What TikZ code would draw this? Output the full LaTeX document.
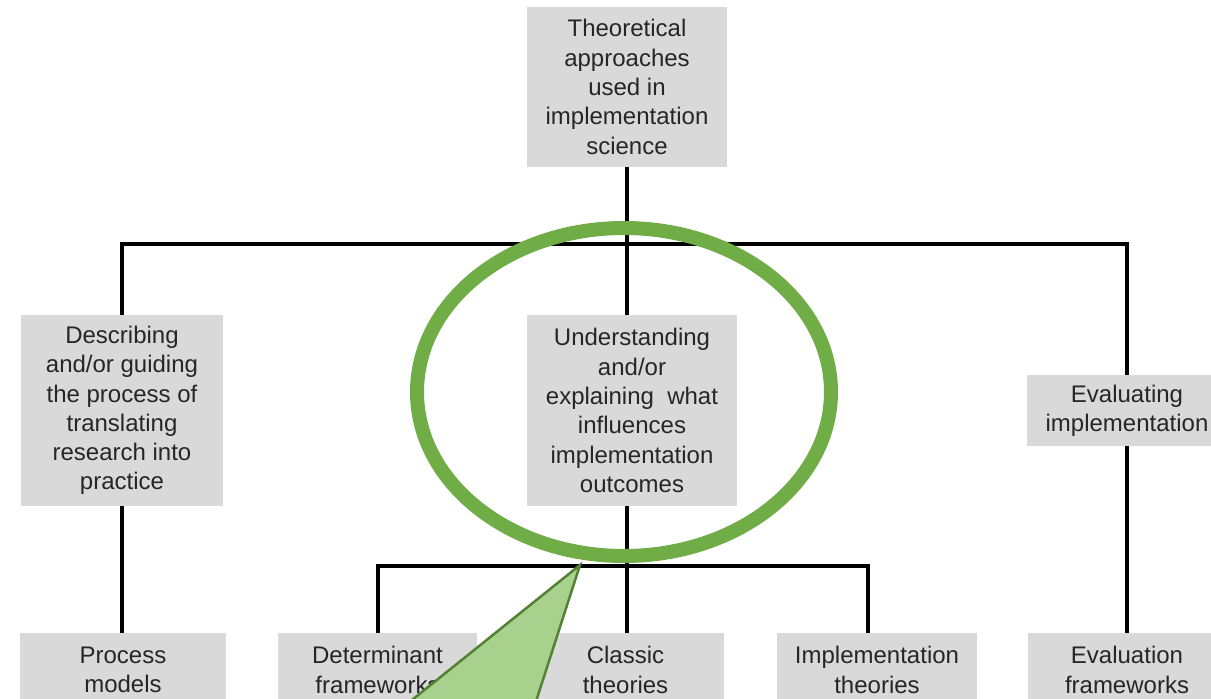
\documentclass[tikz,border=0pt]{standalone}
\usepackage{fontspec}
\setmainfont{Liberation Sans}
\definecolor{boxgray}{HTML}{D9D9D9}
\definecolor{txtgray}{HTML}{262626}
\definecolor{ringgreen}{HTML}{70AD47}
\definecolor{callfill}{HTML}{A9D18E}
\definecolor{callline}{HTML}{548235}
\begin{document}
\begin{tikzpicture}[x=1pt,y=-1pt,
  box/.style={fill=boxgray, draw=none, text=txtgray, align=center, inner sep=0pt,
    font=\fontsize{24}{29.3}\selectfont},
  link/.style={draw=black, line width=4pt, line join=miter},
  ring/.style={draw=ringgreen, line width=14pt},
  callout/.style={fill=callfill, draw=callline, line width=2.5pt, line join=miter}]
\useasboundingbox (0,0) rectangle (1211,699);
% level 0
\node[box, minimum width=200pt, minimum height=160pt] (top) at (627,87)
  {Theoretical\\approaches\\used in\\implementation\\science};
% level 1
\node[box, minimum width=202pt, minimum height=191pt] (desc) at (122,410.5)
  {Describing\\and/or guiding\\the process of\\translating\\research into\\practice};
\node[box, minimum width=210pt, minimum height=191pt] (und) at (632,410.5)
  {Understanding\\and/or\\explaining~ what\\influences\\implementation\\outcomes};
\node[box, minimum width=200pt, minimum height=71pt] (eval) at (1127,410.5)
  {Evaluating\\implementation};
% level 2
\node[box, minimum width=206pt, minimum height=74pt] (proc) at (123,670) {Process\\models};
\node[box, minimum width=199pt, minimum height=74pt] (det) at (377.5,670) {Determinant\\frameworks};
\node[box, minimum width=197pt, minimum height=74pt] (clas) at (625.5,670) {Classic\\theories};
\node[box, minimum width=200pt, minimum height=74pt] (impl) at (877,670) {Implementation\\theories};
\node[box, minimum width=198pt, minimum height=74pt] (evfw) at (1127,670) {Evaluation\\frameworks};
% connectors
\coordinate (bar1) at (627,244);
\coordinate (bar2) at (627,566);
\coordinate (im) at (868,566);
\draw[link] (top.south) -- (bar1);
\draw[link] (desc.north) |- (bar1) -| (eval.north);
\draw[link] (bar1) -- (bar1 |- und.north);
\draw[link] (desc.south) -- (desc.south |- proc.north);
\draw[link] (eval.south) -- (evfw.north);
\draw[link] (bar2 |- und.south) -- (bar2);
\draw[link] (det.north) |- (bar2) -| (im |- impl.north);
\draw[link] (bar2) -- (bar2 |- clas.north);
% highlight ring
\draw[ring] (624,392) ellipse [x radius=207pt, y radius=164pt];
% callout pointer
\coordinate (tip) at (580,565);
\draw[callout] (tip) -- (387,720) -- (530,720) -- cycle;
\end{tikzpicture}
\end{document}
